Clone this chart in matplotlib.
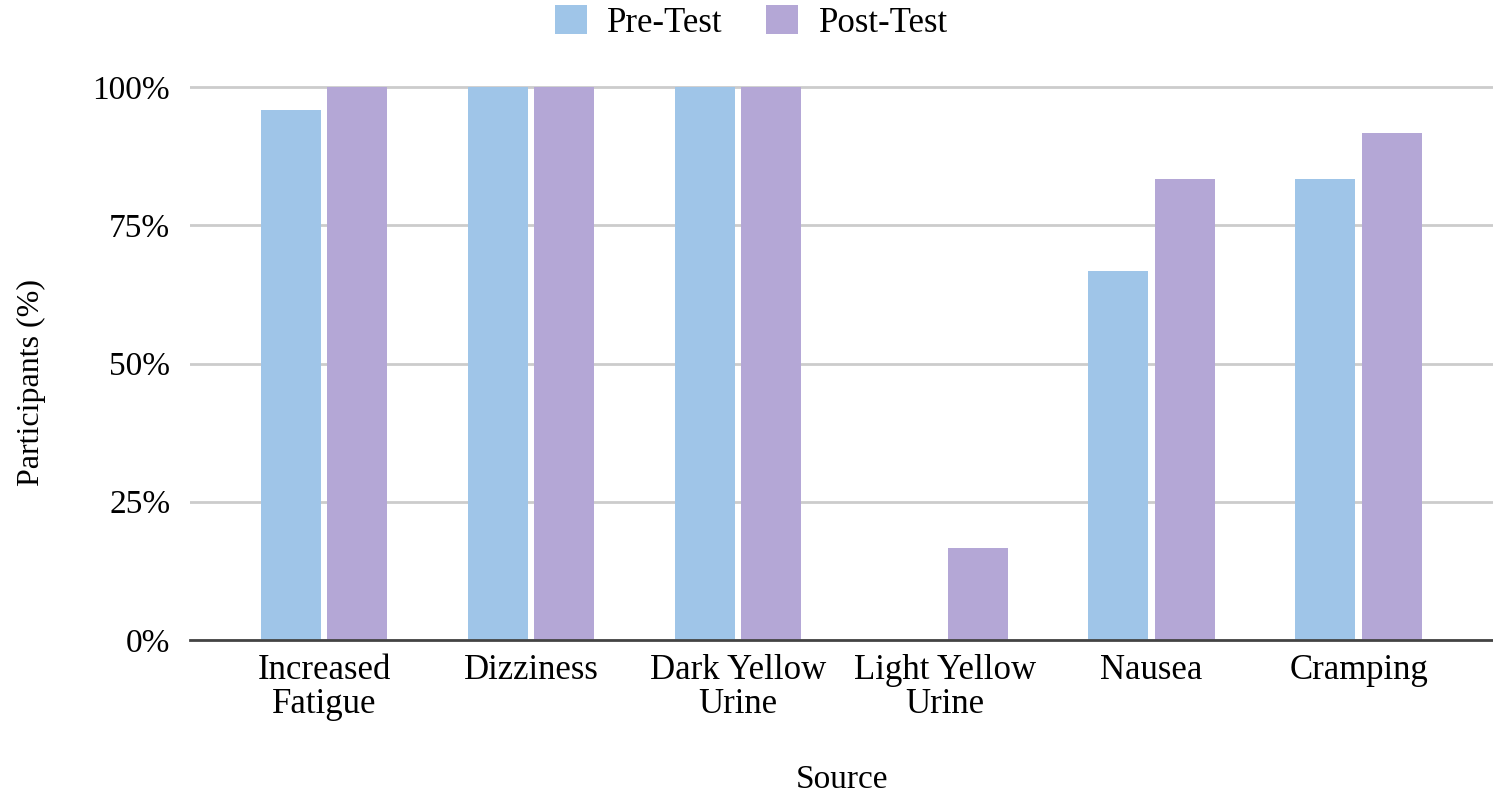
import numpy as np
import matplotlib.pyplot as plt
from matplotlib.ticker import FuncFormatter

# symptom shares before and after the test
symptoms = ["Increased\nFatigue", "Dizziness", "Dark Yellow\nUrine",
            "Light Yellow\nUrine", "Nausea", "Cramping"]
pre_test = [95.8, 100, 100, 0, 66.7, 83.3]
post_test = [100, 100, 100, 16.7, 83.3, 91.7]

PRE_COLOR = "#9fc5e8"
POST_COLOR = "#b4a7d6"

plt.rcParams["font.family"] = ["Liberation Serif", "DejaVu Serif"]

fig = plt.figure(figsize=(14.93, 7.96), dpi=100)
ax = fig.add_axes([0.127, 0.196, 0.873, 0.7016])

x = np.arange(len(symptoms))
width = 0.29
offset = 0.161
ax.bar(x - offset, pre_test, width, color=PRE_COLOR, label="Pre-Test", zorder=3)
ax.bar(x + offset, post_test, width, color=POST_COLOR, label="Post-Test", zorder=3)

ax.set_xlim(-0.65, 5.65)
ax.set_ylim(0, 101)
ax.set_yticks([0, 25, 50, 75, 100])
ax.yaxis.set_major_formatter(FuncFormatter(lambda v, _: f"{v:.0f}%"))
ax.yaxis.grid(True, color="#cccccc", linewidth=2, zorder=0)
ax.set_xticks(x)
ax.set_xticklabels(symptoms, fontsize=25, linespacing=1.05)
ax.tick_params(axis="y", length=0, pad=14, labelsize=24)
ax.tick_params(axis="x", length=0, pad=10)

for side in ["top", "right", "left"]:
    ax.spines[side].set_visible(False)
ax.spines["bottom"].set_color("#444444")
ax.spines["bottom"].set_linewidth(2)
ax.spines["bottom"].set_zorder(4)

fig.text(0.0208, 0.52, "Participants (%)", fontsize=23, rotation=90,
         ha="center", va="center")
fig.text(0.5637, 0.010, "Source", fontsize=24, ha="center", va="baseline")

fig.legend(loc="upper center", bbox_to_anchor=(0.5034, 1.0), ncol=2,
           frameon=False, fontsize=25, handlelength=0.9, handleheight=0.9,
           handletextpad=0.6, columnspacing=1.25, borderaxespad=0,
           borderpad=0.15)

fig.savefig("out.png", dpi=100)
